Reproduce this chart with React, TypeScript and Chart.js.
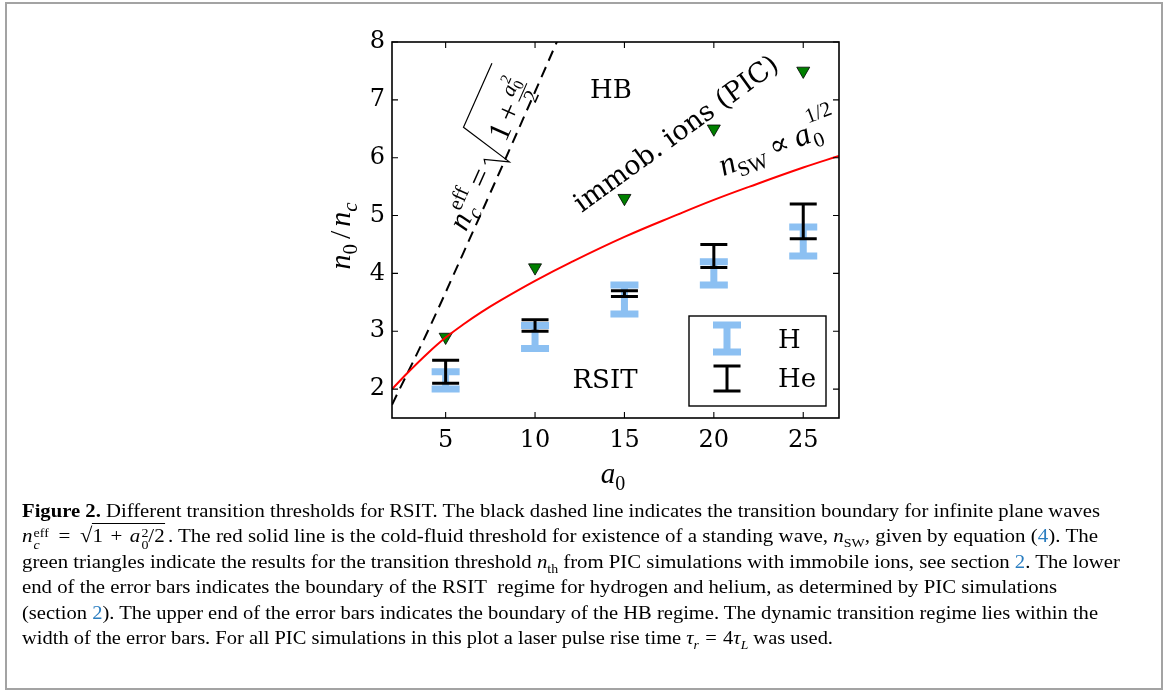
import React, { useEffect, useLayoutEffect, useRef } from 'react';
import { Chart, registerables } from 'chart.js';

Chart.register(...registerables);

// ---------------- data ----------------
const xTickValues = [5, 10, 15, 20, 25];
const yTickValues = [2, 3, 4, 5, 6, 7, 8];
const a0Runs = [5, 10, 15, 20, 25];
const immobileIonThreshold = [2.9, 4.1, 5.3, 6.5, 7.5];
const hydrogenLow = [2.0, 2.7, 3.3, 3.8, 4.3];
const hydrogenHigh = [2.3, 3.1, 3.8, 4.2, 4.8];
const heliumLow = [2.1, 3.0, 3.6, 4.1, 4.6];
const heliumHigh = [2.5, 3.2, 3.7, 4.5, 5.2];
const standingWaveA0 = [2, 3, 4, 5, 6, 7, 8, 10, 12, 15, 18, 20, 22, 25, 27];
const standingWaveN = [2.0, 2.32, 2.62, 2.89, 3.12, 3.33, 3.52, 3.87, 4.19, 4.63, 5.02, 5.27, 5.5, 5.83, 6.03];
const planeWaveA0 = [2, 4, 6, 8, 10, 11.5];
const planeWaveN = [1.73, 3.0, 4.36, 5.74, 7.14, 8.2];
const legendLabels = ['H', 'He'];
const regionLabels = ['HB', 'RSIT'];

const SERIF = "'DejaVu Serif', serif";
const MATH = "'Liberation Serif', serif";
const H_COLOR = '#8cc0f2';

type Run = { t: string; font: string; dy?: number; dx?: number };

function runsWidth(ctx: CanvasRenderingContext2D, runs: Run[]) {
  let w = 0;
  for (const r of runs) {
    ctx.font = r.font;
    w += ctx.measureText(r.t).width + (r.dx || 0);
  }
  return w;
}

function drawRuns(ctx: CanvasRenderingContext2D, x: number, y: number, runs: Run[]) {
  let cx = x;
  for (const r of runs) {
    ctx.font = r.font;
    cx += r.dx || 0;
    ctx.fillText(r.t, cx, y + (r.dy || 0));
    cx += ctx.measureText(r.t).width;
  }
  return cx;
}

function drawErrorBars(ctx: CanvasRenderingContext2D, xs: any, ys: any, xv: number[], lo: number[], hi: number[], color: string, lw: number, half: number) {
  ctx.save();
  ctx.strokeStyle = color;
  ctx.lineWidth = lw;
  ctx.lineCap = 'butt';
  for (let i = 0; i < xv.length; i++) {
    const px = xs.getPixelForValue(xv[i]);
    const pl = ys.getPixelForValue(lo[i]);
    const ph = ys.getPixelForValue(hi[i]);
    ctx.beginPath();
    ctx.moveTo(px, pl);
    ctx.lineTo(px, ph);
    ctx.moveTo(px - half, pl);
    ctx.lineTo(px + half, pl);
    ctx.moveTo(px - half, ph);
    ctx.lineTo(px + half, ph);
    ctx.stroke();
  }
  ctx.restore();
}

function drawIcon(ctx: CanvasRenderingContext2D, x: number, y1: number, y2: number, color: string, lw: number, half: number) {
  ctx.save();
  ctx.strokeStyle = color;
  ctx.lineWidth = lw;
  ctx.beginPath();
  ctx.moveTo(x, y1);
  ctx.lineTo(x, y2);
  ctx.moveTo(x - half, y1);
  ctx.lineTo(x + half, y1);
  ctx.moveTo(x - half, y2);
  ctx.lineTo(x + half, y2);
  ctx.stroke();
  ctx.restore();
}

function drawEffFormula(ctx: CanvasRenderingContext2D, cx: number, cy: number, angleDeg: number) {
  const M = 31, S = 21, SS = 15;
  const fi = (s: number) => `italic ${s}px ${MATH}`;
  const fu = (s: number) => `${s}px ${MATH}`;
  const m = (t: string, f: string) => { ctx.font = f; return ctx.measureText(t).width; };
  const items: { t: string; f: string; x: number; y: number }[] = [];
  let x = 0;
  items.push({ t: 'n', f: fi(M), x, y: 0 });
  x += m('n', fi(M)) + 1;
  items.push({ t: 'eff', f: fu(S), x, y: -14 });
  items.push({ t: 'c', f: fi(S), x, y: 7 });
  x += Math.max(m('eff', fu(S)), m('c', fi(S))) + 7;
  items.push({ t: '=', f: fu(M), x, y: 0 });
  x += m('=', fu(M)) + 6;
  const rx = x;
  x += 28;
  items.push({ t: '1', f: fu(M), x, y: 0 });
  x += m('1', fu(M)) + 5;
  items.push({ t: '+', f: fu(M), x, y: 0 });
  x += m('+', fu(M)) + 5;
  const fx = x;
  const wa = m('a', fi(S));
  items.push({ t: 'a', f: fi(S), x: fx + 1, y: -12 });
  items.push({ t: '0', f: fu(SS), x: fx + 1 + wa, y: -7 });
  items.push({ t: '2', f: fu(SS), x: fx + 1 + wa, y: -21 });
  const numW = wa + Math.max(m('0', fu(SS)), m('2', fu(SS))) + 2;
  const w2 = m('2', fu(S));
  items.push({ t: '2', f: fu(S), x: fx + numW / 2 - w2 / 2, y: 11 });
  x = fx + numW + 4;
  const W = x;
  ctx.save();
  ctx.translate(cx, cy);
  ctx.rotate((-angleDeg * Math.PI) / 180);
  ctx.translate(-W / 2, 17);
  ctx.fillStyle = '#000';
  ctx.textBaseline = 'alphabetic';
  ctx.textAlign = 'left';
  for (const it of items) {
    ctx.font = it.f;
    ctx.fillText(it.t, it.x, it.y);
  }
  ctx.strokeStyle = '#000';
  ctx.lineWidth = 1.2;
  ctx.beginPath();
  ctx.moveTo(rx, -10);
  ctx.lineTo(rx + 4, -13);
  ctx.lineTo(rx + 12, 11);
  ctx.lineTo(rx + 25, -45);
  ctx.lineTo(W, -45);
  ctx.stroke();
  ctx.lineWidth = 1;
  ctx.beginPath();
  ctx.moveTo(fx, -5);
  ctx.lineTo(fx + numW, -5);
  ctx.stroke();
  ctx.restore();
}

const figurePlugin = {
  id: 'figureDecor',
  afterDatasetsDraw(chart: any) {
    const ctx: CanvasRenderingContext2D = chart.ctx;
    const xs = chart.scales.x;
    const ys = chart.scales.y;
    const a = chart.chartArea;
    ctx.save();
    drawErrorBars(ctx, xs, ys, a0Runs, hydrogenLow, hydrogenHigh, H_COLOR, 7, 14);
    drawErrorBars(ctx, xs, ys, a0Runs, heliumLow, heliumHigh, '#000', 3, 13.5);

    // frame
    ctx.strokeStyle = '#000';
    ctx.lineWidth = 1.6;
    ctx.strokeRect(a.left, a.top, a.right - a.left, a.bottom - a.top);
    ctx.lineWidth = 1.1;
    ctx.beginPath();
    for (const v of xTickValues) {
      const p = xs.getPixelForValue(v);
      ctx.moveTo(p, a.bottom);
      ctx.lineTo(p, a.bottom - 6);
      ctx.moveTo(p, a.top);
      ctx.lineTo(p, a.top + 6);
    }
    for (const v of yTickValues) {
      const p = ys.getPixelForValue(v);
      ctx.moveTo(a.left, p);
      ctx.lineTo(a.left + 6, p);
      ctx.moveTo(a.right, p);
      ctx.lineTo(a.right - 6, p);
    }
    ctx.stroke();

    ctx.fillStyle = '#000';
    ctx.textBaseline = 'middle';
    ctx.textAlign = 'center';
    ctx.font = `26px ${SERIF}`;
    ctx.fillText(regionLabels[0], 611, 91);
    ctx.fillText(regionLabels[1], 605, 381);

    // rotated: immob. ions (PIC)
    ctx.save();
    ctx.translate(677, 135);
    ctx.rotate((-36 * Math.PI) / 180);
    ctx.font = `27px ${SERIF}`;
    ctx.fillText('immob. ions (PIC)', 0, 0);
    ctx.restore();

    // rotated: n_SW ∝ a0^(1/2)
    ctx.save();
    ctx.translate(777, 146);
    ctx.rotate((-21 * Math.PI) / 180);
    ctx.textAlign = 'left';
    ctx.textBaseline = 'alphabetic';
    const swRuns: Run[] = [
      { t: 'n', font: `italic 32px ${MATH}` },
      { t: 'SW', font: `21px ${MATH}`, dy: 7 },
      { t: '∝', font: `29px ${SERIF}`, dx: 6 },
      { t: 'a', font: `italic 32px ${MATH}`, dx: 7 },
    ];
    const swW = runsWidth(ctx, swRuns) + 26;
    const endX = drawRuns(ctx, -swW / 2, 9, swRuns);
    ctx.font = `21px ${MATH}`;
    ctx.fillText('0', endX + 1, 16);
    ctx.fillText('1/2', endX + 2, -10);
    ctx.restore();

    drawEffFormula(ctx, 484, 150, 66);

    // axis titles
    ctx.textAlign = 'left';
    ctx.textBaseline = 'alphabetic';
    const xRuns: Run[] = [
      { t: 'a', font: `italic 29px ${MATH}` },
      { t: '0', font: `20px ${MATH}`, dy: 7 },
    ];
    const xw = runsWidth(ctx, xRuns);
    drawRuns(ctx, 613 - xw / 2, 483, xRuns);

    ctx.save();
    ctx.translate(350, 236);
    ctx.rotate(-Math.PI / 2);
    const yRuns: Run[] = [
      { t: 'n', font: `italic 30px ${MATH}` },
      { t: '0', font: `21px ${MATH}`, dy: 7 },
      { t: '/', font: `30px ${MATH}`, dx: 5 },
      { t: 'n', font: `italic 30px ${MATH}`, dx: 4 },
      { t: 'c', font: `italic 21px ${MATH}`, dy: 7 },
    ];
    const yw = runsWidth(ctx, yRuns);
    drawRuns(ctx, -yw / 2, 0, yRuns);
    ctx.restore();

    // legend
    ctx.fillStyle = '#fff';
    ctx.fillRect(689, 316, 137, 90);
    ctx.strokeStyle = '#000';
    ctx.lineWidth = 1.4;
    ctx.strokeRect(689, 316, 137, 90);
    drawIcon(ctx, 727, 325, 352, H_COLOR, 7, 14);
    drawIcon(ctx, 727, 366, 391, '#000', 3, 13.5);
    ctx.fillStyle = '#000';
    ctx.textBaseline = 'middle';
    ctx.textAlign = 'left';
    ctx.font = `26px ${SERIF}`;
    ctx.fillText(legendLabels[0], 778, 341);
    ctx.fillText(legendLabels[1], 778, 380);
    ctx.restore();
  },
};

// ---------------- caption ----------------
const LINK = '#2a7dc0';
const CAP_LEFT = 22;
const captionTargets = [1078, 1076, 1098, 1035, 1076, 811];

const sm = (s: number): React.CSSProperties => ({ fontSize: s });
const gap = (w: number) => <span style={{ display: 'inline-block', width: w }} />;

const stack = (top: React.ReactNode, bottom: React.ReactNode) => (
  <span style={{ display: 'inline-block', verticalAlign: '-7px', fontSize: 13, lineHeight: '12px', marginLeft: 1 }}>
    <span style={{ display: 'block' }}>{top}</span>
    <span style={{ display: 'block' }}>{bottom}</span>
  </span>
);

const captionLines: React.ReactNode[] = [
  <>
    <b>Figure 2.</b> Different transition thresholds for RSIT. The black dashed line indicates the transition boundary for infinite plane waves
  </>,
  <>
    <i>n</i>
    {stack('eff', <i>c</i>)}
    {gap(9)}={gap(9)}
    <span style={{ fontSize: 21 }}>√</span>
    <span style={{ borderTop: '1px solid #000', paddingTop: 1 }}>
      1{gap(7)}+{gap(7)}<i>a</i>
      {stack('2', '0')}
      /2
    </span>
    {gap(3)}. The red solid line is the cold-fluid threshold for existence of a standing wave, <i>n</i>
    <sub style={sm(13)}>SW</sub>, given by equation (<span style={{ color: LINK }}>4</span>). The
  </>,
  <>
    green triangles indicate the results for the transition threshold <i>n</i>
    <sub style={sm(13)}>th</sub> from PIC simulations with immobile ions, see section <span style={{ color: LINK }}>2</span>. The lower
  </>,
  <>end of the error bars indicates the boundary of the RSIT&nbsp; regime for hydrogen and helium, as determined by PIC simulations</>,
  <>
    (section <span style={{ color: LINK }}>2</span>). The upper end of the error bars indicates the boundary of the HB regime. The dynamic transition regime lies within the
  </>,
  <>
    width of the error bars. For all PIC simulations in this plot a laser pulse rise time <i>τ</i>
    <sub style={sm(13)}>
      <i>r</i>
    </sub>
    {gap(6)}={gap(6)}4<i>τ</i>
    <sub style={sm(13)}>
      <i>L</i>
    </sub>{' '}
    was used.
  </>,
];

export default function App() {
  const canvasRef = useRef<HTMLCanvasElement>(null);
  const lineRefs = useRef<(HTMLSpanElement | null)[]>([]);

  useLayoutEffect(() => {
    lineRefs.current.forEach((el, i) => {
      if (!el) return;
      el.style.transform = 'none';
      const w = el.getBoundingClientRect().width;
      if (w > 0) el.style.transform = `scaleX(${captionTargets[i] / w})`;
    });
  }, []);

  useEffect(() => {
    const canvas = canvasRef.current;
    if (!canvas) return;
    const chart = new Chart(canvas, {
      type: 'scatter',
      data: {
        datasets: [
          {
            type: 'line',
            label: 'n_SW',
            data: standingWaveA0.map((x, i) => ({ x, y: standingWaveN[i] })),
            borderColor: '#ff0000',
            borderWidth: 2,
            pointRadius: 0,
            tension: 0.4,
            clip: 0,
            order: 0,
          } as any,
          {
            type: 'scatter',
            label: 'immobile ions (PIC)',
            data: a0Runs.map((x, i) => ({ x, y: immobileIonThreshold[i] })),
            pointStyle: 'triangle',
            rotation: 180,
            pointRadius: 7.5,
            backgroundColor: '#008000',
            borderColor: '#000',
            borderWidth: 0.8,
            order: 1,
          } as any,
          {
            type: 'line',
            label: 'n_c^eff',
            data: planeWaveA0.map((x, i) => ({ x, y: planeWaveN[i] })),
            borderColor: '#000',
            borderWidth: 2,
            borderDash: [11, 7],
            pointRadius: 0,
            tension: 0.4,
            clip: 0,
            order: 2,
          } as any,
        ],
      },
      options: {
        responsive: false,
        maintainAspectRatio: false,
        devicePixelRatio: 1,
        animation: false,
        events: [],
        layout: { padding: { left: 330, right: 329, top: 42, bottom: 42 } },
        plugins: { legend: { display: false }, tooltip: { enabled: false } },
        scales: {
          x: {
            type: 'linear',
            min: 2,
            max: 27,
            afterBuildTicks: (s: any) => {
              s.ticks = xTickValues.map((v) => ({ value: v }));
            },
            afterFit: (s: any) => {
              s.height = 40;
            },
            grid: { display: false, drawTicks: false },
            border: { display: false },
            ticks: { font: { family: 'DejaVu Serif', size: 24 }, color: '#000', padding: 8, maxRotation: 0, autoSkip: false },
          },
          y: {
            type: 'linear',
            min: 1.5,
            max: 8,
            afterBuildTicks: (s: any) => {
              s.ticks = yTickValues.map((v) => ({ value: v }));
            },
            afterFit: (s: any) => {
              s.width = 62;
            },
            grid: { display: false, drawTicks: false },
            border: { display: false },
            ticks: { font: { family: 'DejaVu Serif', size: 24 }, color: '#000', padding: 7, autoSkip: false },
          },
        },
      } as any,
      plugins: [figurePlugin],
    });
    return () => chart.destroy();
  }, []);

  return (
    <div style={{ position: 'fixed', left: 0, top: 0, width: 1168, height: 691, background: '#fff', overflow: 'hidden' }}>
      <div
        style={{
          position: 'absolute',
          left: 5,
          top: 2,
          width: 1158,
          height: 688,
          border: '2px solid #a3a3a3',
          boxSizing: 'border-box',
        }}
      />
      <canvas ref={canvasRef} width={1168} height={500} style={{ position: 'absolute', left: 0, top: 0, width: 1168, height: 500 }} />
      {captionLines.map((ln, i) => (
        <div
          key={i}
          style={{
            position: 'absolute',
            left: CAP_LEFT,
            top: 498 + i * 25.4,
            height: 25.4,
            whiteSpace: 'nowrap',
            fontFamily: "'Liberation Serif', serif",
            fontSize: 19.5,
            lineHeight: '25.4px',
            color: '#000',
          }}
        >
          <span
            ref={(el) => {
              lineRefs.current[i] = el;
            }}
            style={{ display: 'inline-block', transformOrigin: '0 0' }}
          >
            {ln}
          </span>
        </div>
      ))}
    </div>
  );
}
